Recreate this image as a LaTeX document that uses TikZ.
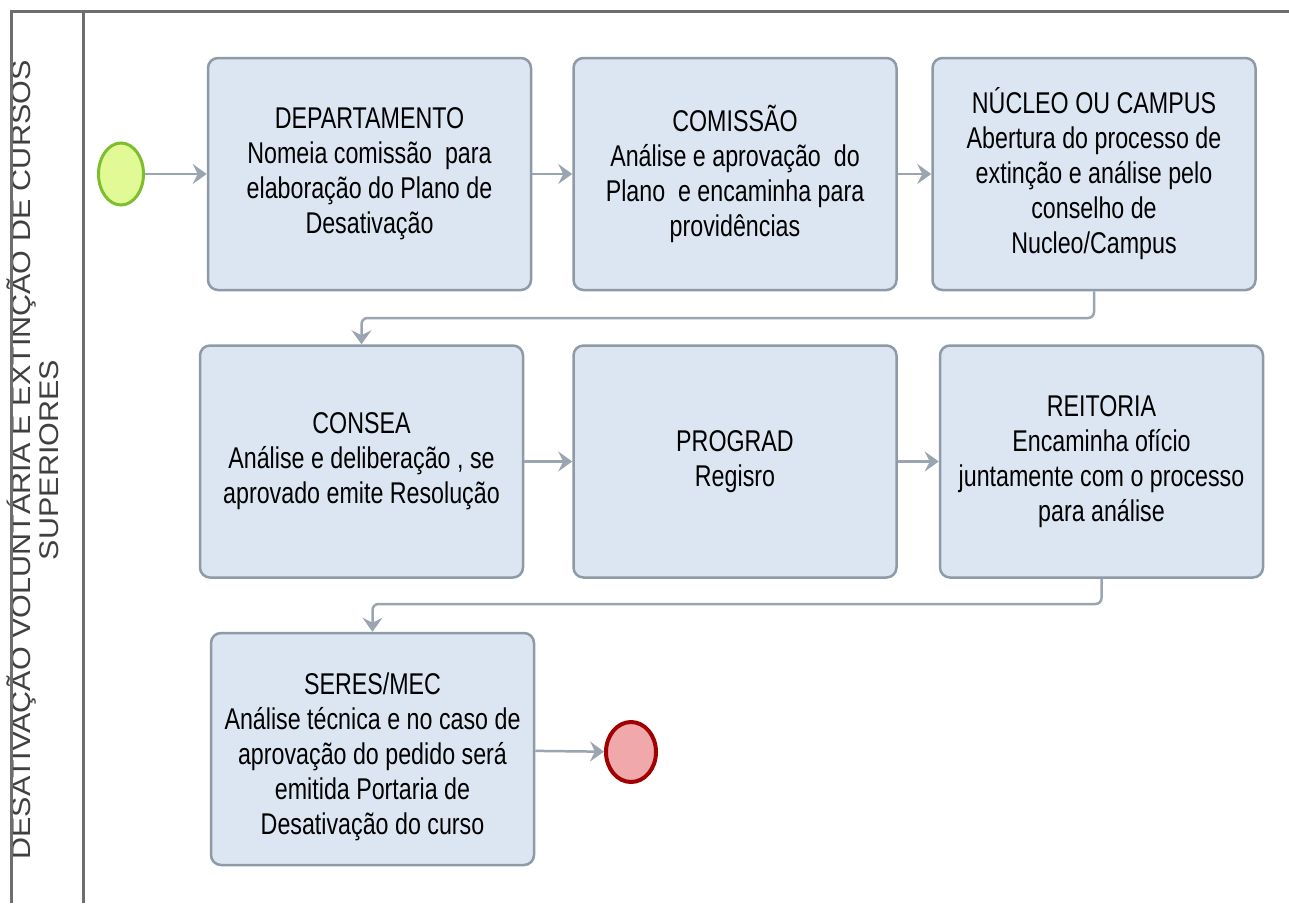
\documentclass[tikz,border=0pt]{standalone}
\usepackage{fontspec}
\setmainfont{Liberation Sans}
\newfontfamily\boxfont[FakeStretch=0.775]{Liberation Sans}
\newfontfamily\lanefont[FakeStretch=1.13]{Liberation Sans}
\usetikzlibrary{shapes.geometric,arrows.meta}
\definecolor{boxfill}{HTML}{DCE6F2}
\definecolor{boxline}{HTML}{8E9AA6}
\definecolor{connline}{HTML}{9AA5B1}
\definecolor{poolline}{HTML}{6E6E6E}
\definecolor{lanetext}{HTML}{404040}
\definecolor{startfill}{HTML}{E1FA96}
\definecolor{startline}{HTML}{7DBE2E}
\definecolor{endfill}{HTML}{F0A8AA}
\definecolor{endline}{HTML}{A00000}
\tikzset{
  taskbox/.style={rectangle, rounded corners=10pt, draw=boxline, fill=boxfill,
    line width=2.5pt, minimum width=323pt, minimum height=232pt, align=center,
    inner sep=0pt, font=\boxfont\fontsize{30}{35}\selectfont, text=black},
  conn/.style={draw=connline, line width=2.5pt,
    -{Stealth[length=14pt,width=20pt,inset=5pt]}},
  pool/.style={draw=poolline, line width=3pt},
  lanelabel/.style={align=center, inner sep=0pt, text=lanetext,
    font=\lanefont\fontsize{27}{28}\selectfont},
  startev/.style={ellipse, draw=startline, fill=startfill, line width=3pt,
    minimum width=45pt, minimum height=62pt, inner sep=0pt},
  endev/.style={ellipse, draw=endline, fill=endfill, line width=4pt,
    minimum width=50pt, minimum height=60pt, inner sep=0pt}
}
\begin{document}
\begin{tikzpicture}[x=1pt,y=-1pt]
\useasboundingbox (0,0) rectangle (1289,903);

\node[lanelabel, rotate=90, anchor=north] (lane) at (6.5,460)
  {DESATIVAÇÃO VOLUNTÁRIA E EXTINÇÃO DE CURSOS\\SUPERIORES};

\draw[pool] (11,903) -- (11,11) -- (1289,11);
\draw[pool] (83,11) -- (83,903);

\node[startev] (start) at (121,174) {};
\node[endev] (end) at (631,752) {};

\node[taskbox] (b1) at (369.5,174) {DEPARTAMENTO\\Nomeia comissão\ \ para\\elaboração do Plano de\\Desativação};
\node[taskbox] (b2) at (735,174) {COMISSÃO\\Análise e aprovação\ \ do\\Plano\ \ e encaminha para\\providências};
\node[taskbox] (b3) at (1094,174) {NÚCLEO OU CAMPUS\\Abertura do processo de\\extinção e análise pelo\\conselho de\\Nucleo/Campus};
\node[taskbox] (b4) at (361.5,461.5) {CONSEA\\Análise e deliberação , se\\aprovado emite Resolução};
\node[taskbox] (b5) at (735,461.5) {PROGRAD\\Regisro};
\node[taskbox] (b6) at (1101.5,461.5) {REITORIA\\Encaminha ofício\\juntamente com o processo\\para análise};
\node[taskbox] (b7) at (372.5,749) {\rule{0pt}{38pt}SERES/MEC\\Análise técnica e no caso de\\aprovação do pedido será\\emitida Portaria de\\Desativação do curso};

\draw[conn] (start) -- (b1);
\draw[conn] (b1) -- (b2);
\draw[conn] (b2) -- (b3);
\draw[conn, rounded corners=6pt] (b3.south) -- (b3.south |- 0,318) -- (b4.north |- 0,318) -- (b4.north);
\draw[conn] (b4) -- (b5);
\draw[conn] (b5) -- (b6);
\draw[conn, rounded corners=6pt] (b6.south) -- (b6.south |- 0,604) -- (b7.north |- 0,604) -- (b7.north);
\draw[conn] (b7) -- (end);
\end{tikzpicture}
\end{document}
